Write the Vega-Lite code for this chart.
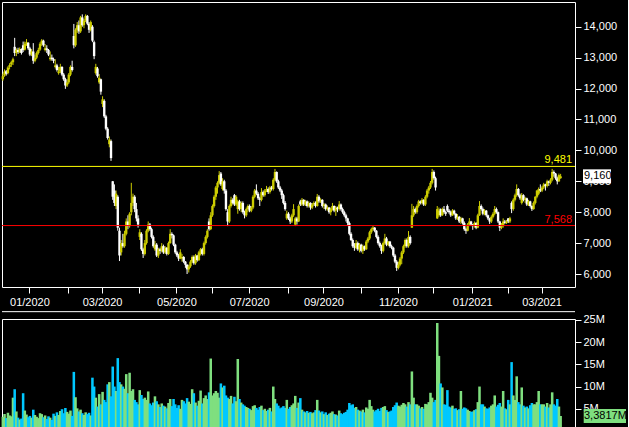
{
"$schema":"https://vega.github.io/schema/vega-lite/v6.json",
"background":"#000000",
"padding":{"left":1,"top":1,"right":0,"bottom":0},
"spacing":2,
"config":{"view":{"stroke":"#ffffff","strokeWidth":1},"axis":{"labelColor":"#ffffff","tickColor":"#ffffff","domain":false,"grid":false,"labelFont":"Liberation Sans","labelFontSize":11,"tickSize":6,"labelOverlap":false},"text":{"font":"Liberation Sans"}},
"resolve":{"scale":{"x":"shared"}},
"datasets":{"pad":[{"d":"2021-03-17"},{"d":"2021-03-18"},{"d":"2021-03-19"},{"d":"2021-03-22"},{"d":"2021-03-23"},{"d":"2021-03-24"},{"d":"2021-03-25"},{"d":"2021-03-26"}]},
"data":{"values":[
{"d":"2019-12-10","o":12300,"h":12480,"l":12250,"c":12400,"v":3.2},
{"d":"2019-12-11","o":12420,"h":12620,"l":12380,"c":12550,"v":3.8},
{"d":"2019-12-12","o":12560,"h":12600,"l":12420,"c":12480,"v":2.9},
{"d":"2019-12-13","o":12500,"h":12720,"l":12460,"c":12680,"v":4.1},
{"d":"2019-12-16","o":12700,"h":12820,"l":12620,"c":12760,"v":3.5},
{"d":"2019-12-17","o":12780,"h":12900,"l":12700,"c":12850,"v":3.3},
{"d":"2019-12-18","o":12850,"h":13000,"l":12760,"c":12950,"v":7.5},
{"d":"2019-12-19","o":13350,"h":13640,"l":13050,"c":13150,"v":9.4},
{"d":"2019-12-20","o":13150,"h":13300,"l":13050,"c":13250,"v":4.4},
{"d":"2019-12-23","o":13250,"h":13320,"l":13120,"c":13180,"v":3.0},
{"d":"2019-12-24","o":13180,"h":13330,"l":13150,"c":13280,"v":2.6},
{"d":"2019-12-25","o":13280,"h":13300,"l":13100,"c":13150,"v":2.8},
{"d":"2019-12-26","o":13400,"h":13520,"l":13180,"c":13250,"v":8.5},
{"d":"2019-12-27","o":13260,"h":13520,"l":13230,"c":13450,"v":4.6},
{"d":"2019-12-30","o":13450,"h":13600,"l":13380,"c":13500,"v":3.7},
{"d":"2019-12-31","o":13480,"h":13500,"l":13250,"c":13300,"v":3.1},
{"d":"2020-01-01","o":13300,"h":13350,"l":13050,"c":13100,"v":3.4},
{"d":"2020-01-02","o":13100,"h":13280,"l":13050,"c":13200,"v":3.0},
{"d":"2020-01-03","o":13200,"h":13470,"l":12800,"c":12900,"v":4.8},
{"d":"2020-01-06","o":12900,"h":13100,"l":12850,"c":13000,"v":3.6},
{"d":"2020-01-07","o":13000,"h":13200,"l":12950,"c":13150,"v":3.2},
{"d":"2020-01-08","o":13150,"h":13320,"l":13100,"c":13250,"v":2.9},
{"d":"2020-01-09","o":13260,"h":13500,"l":13220,"c":13450,"v":4.0},
{"d":"2020-01-10","o":13450,"h":13600,"l":13380,"c":13550,"v":3.8},
{"d":"2020-01-13","o":13550,"h":13580,"l":13350,"c":13400,"v":3.1},
{"d":"2020-01-14","o":13250,"h":13440,"l":13200,"c":13300,"v":3.5},
{"d":"2020-01-15","o":13300,"h":13400,"l":13150,"c":13250,"v":2.7},
{"d":"2020-01-16","o":13250,"h":13280,"l":13050,"c":13100,"v":3.3},
{"d":"2020-01-17","o":12950,"h":13200,"l":12900,"c":13000,"v":3.0},
{"d":"2020-01-20","o":13000,"h":13100,"l":12900,"c":12950,"v":2.5},
{"d":"2020-01-21","o":12950,"h":13000,"l":12820,"c":12900,"v":3.9},
{"d":"2020-01-22","o":12700,"h":12950,"l":12650,"c":12750,"v":3.4},
{"d":"2020-01-23","o":12750,"h":12800,"l":12550,"c":12600,"v":4.2},
{"d":"2020-01-24","o":12500,"h":12700,"l":12450,"c":12550,"v":3.6},
{"d":"2020-01-27","o":12550,"h":12800,"l":12500,"c":12700,"v":4.5},
{"d":"2020-01-28","o":12700,"h":12720,"l":12400,"c":12450,"v":4.9},
{"d":"2020-01-29","o":12450,"h":12500,"l":12250,"c":12300,"v":4.0},
{"d":"2020-01-30","o":12300,"h":12350,"l":11990,"c":12100,"v":5.2},
{"d":"2020-01-31","o":12100,"h":12300,"l":12050,"c":12200,"v":4.3},
{"d":"2020-02-03","o":12200,"h":12500,"l":12150,"c":12450,"v":3.9},
{"d":"2020-02-04","o":12450,"h":12750,"l":12400,"c":12700,"v":4.6},
{"d":"2020-02-05","o":12700,"h":12900,"l":12550,"c":12600,"v":3.4},
{"d":"2020-02-06","o":13700,"h":14090,"l":13300,"c":13400,"v":13.3},
{"d":"2020-02-07","o":13400,"h":13950,"l":13350,"c":13900,"v":7.6},
{"d":"2020-02-10","o":13900,"h":14150,"l":13800,"c":14050,"v":5.1},
{"d":"2020-02-11","o":14050,"h":14200,"l":13770,"c":13850,"v":4.4},
{"d":"2020-02-12","o":13850,"h":14350,"l":13800,"c":14300,"v":4.8},
{"d":"2020-02-13","o":14300,"h":14400,"l":14000,"c":14050,"v":4.0},
{"d":"2020-02-14","o":14050,"h":14250,"l":13950,"c":14200,"v":3.6},
{"d":"2020-02-17","o":14200,"h":14400,"l":14150,"c":14350,"v":4.2},
{"d":"2020-02-18","o":14350,"h":14380,"l":14050,"c":14100,"v":3.8},
{"d":"2020-02-19","o":14100,"h":14150,"l":13800,"c":13900,"v":4.1},
{"d":"2020-02-20","o":13900,"h":14200,"l":13850,"c":14150,"v":3.5},
{"d":"2020-02-21","o":14000,"h":14050,"l":13500,"c":13550,"v":12.0},
{"d":"2020-02-24","o":13500,"h":13550,"l":12950,"c":13050,"v":10.0},
{"d":"2020-02-25","o":12500,"h":12800,"l":12450,"c":12700,"v":7.5},
{"d":"2020-02-26","o":12650,"h":12700,"l":12350,"c":12400,"v":5.5},
{"d":"2020-02-27","o":12200,"h":12470,"l":12150,"c":12350,"v":8.3},
{"d":"2020-02-28","o":12300,"h":12320,"l":11800,"c":11900,"v":6.0},
{"d":"2020-03-02","o":11500,"h":11750,"l":11400,"c":11650,"v":8.8},
{"d":"2020-03-03","o":11600,"h":11650,"l":11050,"c":11100,"v":7.0},
{"d":"2020-03-04","o":11100,"h":11150,"l":10650,"c":10700,"v":6.5},
{"d":"2020-03-05","o":10700,"h":10750,"l":10350,"c":10400,"v":10.5},
{"d":"2020-03-06","o":10200,"h":10450,"l":10100,"c":10350,"v":11.0},
{"d":"2020-03-09","o":10300,"h":10350,"l":9660,"c":9750,"v":7.8},
{"d":"2020-03-10","o":9000,"h":9010,"l":8400,"c":8500,"v":14.5},
{"d":"2020-03-11","o":8700,"h":8900,"l":8200,"c":8300,"v":10.0},
{"d":"2020-03-12","o":8200,"h":8700,"l":8100,"c":8600,"v":9.0},
{"d":"2020-03-13","o":8500,"h":8550,"l":7400,"c":7500,"v":16.4},
{"d":"2020-03-16","o":7400,"h":7500,"l":6420,"c":6600,"v":11.0},
{"d":"2020-03-17","o":6700,"h":7100,"l":6600,"c":7000,"v":10.5},
{"d":"2020-03-18","o":7000,"h":7300,"l":6850,"c":6900,"v":10.0},
{"d":"2020-03-19","o":6900,"h":7400,"l":6850,"c":7300,"v":9.5},
{"d":"2020-03-20","o":7300,"h":7800,"l":7250,"c":7700,"v":12.8},
{"d":"2020-03-23","o":7700,"h":7900,"l":7450,"c":7550,"v":8.5},
{"d":"2020-03-24","o":7550,"h":8000,"l":7500,"c":7950,"v":13.1},
{"d":"2020-03-25","o":8000,"h":8950,"l":7900,"c":8300,"v":9.0},
{"d":"2020-03-26","o":8300,"h":8600,"l":8200,"c":8500,"v":9.4},
{"d":"2020-03-27","o":8500,"h":8550,"l":8000,"c":8100,"v":7.0},
{"d":"2020-03-30","o":8100,"h":8300,"l":7700,"c":7800,"v":6.5},
{"d":"2020-03-31","o":7800,"h":7900,"l":7500,"c":7600,"v":6.0},
{"d":"2020-04-01","o":7200,"h":7450,"l":7100,"c":7350,"v":9.2},
{"d":"2020-04-02","o":7300,"h":7350,"l":6750,"c":6800,"v":8.1},
{"d":"2020-04-03","o":6800,"h":6850,"l":6520,"c":6650,"v":7.2},
{"d":"2020-04-06","o":6650,"h":7100,"l":6600,"c":7000,"v":7.5},
{"d":"2020-04-07","o":7000,"h":7450,"l":6950,"c":7400,"v":7.0},
{"d":"2020-04-08","o":7400,"h":7700,"l":7350,"c":7600,"v":8.9},
{"d":"2020-04-09","o":7600,"h":7650,"l":7400,"c":7450,"v":6.2},
{"d":"2020-04-10","o":7450,"h":7500,"l":7150,"c":7200,"v":5.8},
{"d":"2020-04-13","o":7200,"h":7250,"l":6850,"c":6900,"v":6.4},
{"d":"2020-04-14","o":6800,"h":7070,"l":6750,"c":6950,"v":7.8},
{"d":"2020-04-15","o":6950,"h":7000,"l":6550,"c":6600,"v":6.7},
{"d":"2020-04-16","o":6600,"h":6850,"l":6520,"c":6800,"v":6.0},
{"d":"2020-04-17","o":6800,"h":6850,"l":6650,"c":6750,"v":5.4},
{"d":"2020-04-20","o":6750,"h":7000,"l":6700,"c":6900,"v":6.2},
{"d":"2020-04-21","o":6900,"h":6950,"l":6650,"c":6700,"v":5.7},
{"d":"2020-04-22","o":6700,"h":6900,"l":6650,"c":6850,"v":5.5},
{"d":"2020-04-23","o":6850,"h":6870,"l":6600,"c":6650,"v":5.1},
{"d":"2020-04-24","o":6650,"h":7050,"l":6620,"c":7000,"v":6.3},
{"d":"2020-04-27","o":7000,"h":7450,"l":6980,"c":7300,"v":7.2},
{"d":"2020-04-28","o":7300,"h":7350,"l":7150,"c":7250,"v":5.6},
{"d":"2020-04-29","o":7250,"h":7280,"l":6900,"c":6950,"v":7.2},
{"d":"2020-04-30","o":6950,"h":6980,"l":6650,"c":6700,"v":6.0},
{"d":"2020-05-01","o":6700,"h":6750,"l":6550,"c":6600,"v":5.2},
{"d":"2020-05-04","o":6600,"h":6650,"l":6420,"c":6500,"v":5.8},
{"d":"2020-05-05","o":6500,"h":6800,"l":6480,"c":6700,"v":5.0},
{"d":"2020-05-06","o":6500,"h":6650,"l":6400,"c":6550,"v":7.0},
{"d":"2020-05-07","o":6550,"h":6580,"l":6350,"c":6400,"v":6.7},
{"d":"2020-05-08","o":6400,"h":6420,"l":6200,"c":6300,"v":6.2},
{"d":"2020-05-11","o":6300,"h":6320,"l":6000,"c":6150,"v":7.4},
{"d":"2020-05-12","o":6150,"h":6300,"l":6050,"c":6250,"v":6.6},
{"d":"2020-05-13","o":6250,"h":6450,"l":6200,"c":6400,"v":6.1},
{"d":"2020-05-14","o":6400,"h":6600,"l":6350,"c":6550,"v":9.4},
{"d":"2020-05-15","o":6550,"h":6600,"l":6300,"c":6350,"v":8.5},
{"d":"2020-05-18","o":6350,"h":6650,"l":6300,"c":6600,"v":6.4},
{"d":"2020-05-19","o":6600,"h":6620,"l":6400,"c":6450,"v":5.7},
{"d":"2020-05-20","o":6450,"h":6750,"l":6420,"c":6700,"v":6.8},
{"d":"2020-05-21","o":6650,"h":6840,"l":6600,"c":6800,"v":9.1},
{"d":"2020-05-22","o":6800,"h":6850,"l":6600,"c":6650,"v":6.2},
{"d":"2020-05-25","o":6650,"h":7050,"l":6600,"c":7000,"v":7.4},
{"d":"2020-05-26","o":7000,"h":7250,"l":6950,"c":7200,"v":8.0},
{"d":"2020-05-27","o":7200,"h":7450,"l":7150,"c":7400,"v":7.2},
{"d":"2020-05-28","o":7700,"h":7800,"l":7400,"c":7450,"v":8.7},
{"d":"2020-05-29","o":7450,"h":8000,"l":7420,"c":7900,"v":16.3},
{"d":"2020-06-01","o":7900,"h":8250,"l":7850,"c":8200,"v":8.0},
{"d":"2020-06-02","o":8200,"h":8550,"l":8150,"c":8500,"v":8.5},
{"d":"2020-06-03","o":8500,"h":8850,"l":8400,"c":8800,"v":9.0},
{"d":"2020-06-04","o":8800,"h":9000,"l":8600,"c":8950,"v":8.6},
{"d":"2020-06-05","o":8950,"h":9330,"l":8900,"c":9200,"v":7.5},
{"d":"2020-06-08","o":9250,"h":9300,"l":8850,"c":8900,"v":10.7},
{"d":"2020-06-09","o":8750,"h":9100,"l":8700,"c":9000,"v":9.8},
{"d":"2020-06-10","o":9000,"h":9050,"l":8600,"c":8700,"v":10.2},
{"d":"2020-06-11","o":8700,"h":8750,"l":8050,"c":8100,"v":8.0},
{"d":"2020-06-12","o":8000,"h":8100,"l":7550,"c":7700,"v":7.5},
{"d":"2020-06-15","o":7700,"h":8250,"l":7650,"c":8200,"v":7.2},
{"d":"2020-06-16","o":8200,"h":8500,"l":8150,"c":8400,"v":7.9},
{"d":"2020-06-17","o":8400,"h":8450,"l":8250,"c":8300,"v":6.2},
{"d":"2020-06-18","o":8550,"h":8590,"l":8200,"c":8250,"v":7.7},
{"d":"2020-06-19","o":8250,"h":8550,"l":8200,"c":8500,"v":6.7},
{"d":"2020-06-22","o":8100,"h":8400,"l":7950,"c":8350,"v":16.2},
{"d":"2020-06-23","o":8350,"h":8400,"l":8050,"c":8100,"v":7.2},
{"d":"2020-06-24","o":8100,"h":8350,"l":8000,"c":8300,"v":6.4},
{"d":"2020-06-25","o":8300,"h":8350,"l":7950,"c":8000,"v":6.0},
{"d":"2020-06-26","o":8000,"h":8050,"l":7800,"c":7900,"v":5.7},
{"d":"2020-06-29","o":7900,"h":8150,"l":7850,"c":8100,"v":5.4},
{"d":"2020-06-30","o":8100,"h":8250,"l":8000,"c":8200,"v":5.2},
{"d":"2020-07-01","o":8200,"h":8250,"l":8000,"c":8050,"v":5.0},
{"d":"2020-07-02","o":8050,"h":8200,"l":8000,"c":8150,"v":4.7},
{"d":"2020-07-03","o":8150,"h":8550,"l":8100,"c":8500,"v":5.6},
{"d":"2020-07-06","o":8500,"h":8750,"l":8450,"c":8700,"v":5.8},
{"d":"2020-07-07","o":8700,"h":8900,"l":8550,"c":8600,"v":5.2},
{"d":"2020-07-08","o":8600,"h":8650,"l":8400,"c":8450,"v":4.8},
{"d":"2020-07-09","o":8450,"h":8500,"l":8200,"c":8400,"v":5.4},
{"d":"2020-07-10","o":8400,"h":8780,"l":8350,"c":8650,"v":5.7},
{"d":"2020-07-13","o":8650,"h":8700,"l":8500,"c":8550,"v":4.7},
{"d":"2020-07-14","o":8550,"h":8750,"l":8500,"c":8700,"v":5.0},
{"d":"2020-07-15","o":8700,"h":8850,"l":8650,"c":8750,"v":4.5},
{"d":"2020-07-16","o":8750,"h":8800,"l":8590,"c":8650,"v":4.8},
{"d":"2020-07-17","o":8650,"h":8850,"l":8600,"c":8800,"v":5.2},
{"d":"2020-07-20","o":8800,"h":8850,"l":8700,"c":8750,"v":4.4},
{"d":"2020-07-21","o":8750,"h":9100,"l":8700,"c":9050,"v":10.0},
{"d":"2020-07-22","o":9050,"h":9400,"l":9000,"c":9300,"v":7.2},
{"d":"2020-07-23","o":9300,"h":9320,"l":8950,"c":9000,"v":6.2},
{"d":"2020-07-24","o":9000,"h":9050,"l":8750,"c":8800,"v":5.7},
{"d":"2020-07-27","o":8800,"h":8850,"l":8650,"c":8700,"v":5.1},
{"d":"2020-07-28","o":8700,"h":8750,"l":8430,"c":8550,"v":5.3},
{"d":"2020-07-29","o":8550,"h":8600,"l":8250,"c":8300,"v":5.6},
{"d":"2020-07-30","o":8300,"h":8360,"l":8050,"c":8100,"v":5.2},
{"d":"2020-07-31","o":7800,"h":8050,"l":7750,"c":7950,"v":7.0},
{"d":"2020-08-03","o":7950,"h":8000,"l":7750,"c":7800,"v":5.0},
{"d":"2020-08-04","o":7800,"h":7850,"l":7620,"c":7700,"v":5.4},
{"d":"2020-08-05","o":7700,"h":7950,"l":7650,"c":7900,"v":5.8},
{"d":"2020-08-06","o":7900,"h":8260,"l":7850,"c":8100,"v":6.2},
{"d":"2020-08-07","o":7600,"h":7850,"l":7550,"c":7800,"v":7.9},
{"d":"2020-08-10","o":7800,"h":7850,"l":7600,"c":7700,"v":5.2},
{"d":"2020-08-11","o":7700,"h":8250,"l":7680,"c":8200,"v":6.4},
{"d":"2020-08-12","o":8350,"h":8400,"l":8200,"c":8250,"v":7.4},
{"d":"2020-08-13","o":8250,"h":8460,"l":8200,"c":8400,"v":4.8},
{"d":"2020-08-14","o":8400,"h":8420,"l":8200,"c":8250,"v":4.4},
{"d":"2020-08-17","o":8250,"h":8400,"l":8200,"c":8350,"v":4.2},
{"d":"2020-08-18","o":8350,"h":8380,"l":8150,"c":8200,"v":4.5},
{"d":"2020-08-19","o":8200,"h":8350,"l":8150,"c":8300,"v":4.1},
{"d":"2020-08-20","o":8300,"h":8320,"l":8080,"c":8150,"v":4.3},
{"d":"2020-08-21","o":8150,"h":8300,"l":8100,"c":8250,"v":4.0},
{"d":"2020-08-24","o":8250,"h":8350,"l":8200,"c":8300,"v":4.2},
{"d":"2020-08-25","o":8300,"h":8350,"l":8150,"c":8200,"v":4.7},
{"d":"2020-08-26","o":8200,"h":8590,"l":8180,"c":8500,"v":7.0},
{"d":"2020-08-27","o":8500,"h":8550,"l":8300,"c":8350,"v":4.6},
{"d":"2020-08-28","o":8350,"h":8450,"l":8300,"c":8400,"v":4.2},
{"d":"2020-08-31","o":8400,"h":8420,"l":8150,"c":8200,"v":4.4},
{"d":"2020-09-01","o":8200,"h":8300,"l":8100,"c":8250,"v":3.8},
{"d":"2020-09-02","o":8250,"h":8280,"l":8050,"c":8100,"v":4.2},
{"d":"2020-09-03","o":8100,"h":8220,"l":8050,"c":8150,"v":3.6},
{"d":"2020-09-04","o":8150,"h":8170,"l":7950,"c":8000,"v":3.9},
{"d":"2020-09-07","o":8000,"h":8150,"l":7900,"c":8100,"v":4.1},
{"d":"2020-09-08","o":8100,"h":8300,"l":8050,"c":8200,"v":4.4},
{"d":"2020-09-09","o":8200,"h":8220,"l":8000,"c":8050,"v":3.8},
{"d":"2020-09-10","o":8050,"h":8200,"l":7880,"c":8150,"v":3.7},
{"d":"2020-09-11","o":8150,"h":8180,"l":8000,"c":8100,"v":3.5},
{"d":"2020-09-14","o":8100,"h":8360,"l":8050,"c":8250,"v":4.6},
{"d":"2020-09-15","o":8250,"h":8280,"l":8050,"c":8100,"v":4.0},
{"d":"2020-09-16","o":8100,"h":8150,"l":7950,"c":8000,"v":3.8},
{"d":"2020-09-17","o":8000,"h":8050,"l":7850,"c":7900,"v":4.1},
{"d":"2020-09-18","o":7900,"h":7950,"l":7700,"c":7800,"v":4.3},
{"d":"2020-09-21","o":7800,"h":7820,"l":7550,"c":7650,"v":4.8},
{"d":"2020-09-22","o":7650,"h":7700,"l":7250,"c":7300,"v":6.3},
{"d":"2020-09-23","o":7300,"h":7350,"l":7070,"c":7100,"v":5.8},
{"d":"2020-09-24","o":7100,"h":7150,"l":6850,"c":6900,"v":6.0},
{"d":"2020-09-25","o":6900,"h":7000,"l":6750,"c":6850,"v":5.2},
{"d":"2020-09-28","o":6850,"h":7100,"l":6800,"c":7000,"v":5.4},
{"d":"2020-09-29","o":7000,"h":7050,"l":6750,"c":6800,"v":4.8},
{"d":"2020-09-30","o":6800,"h":7000,"l":6700,"c":6950,"v":4.6},
{"d":"2020-10-01","o":6950,"h":6980,"l":6700,"c":6750,"v":4.4},
{"d":"2020-10-02","o":6750,"h":6950,"l":6650,"c":6900,"v":4.8},
{"d":"2020-10-05","o":6900,"h":6920,"l":6750,"c":6800,"v":4.2},
{"d":"2020-10-06","o":6800,"h":7100,"l":6780,"c":7050,"v":5.3},
{"d":"2020-10-07","o":7050,"h":7200,"l":7000,"c":7150,"v":5.0},
{"d":"2020-10-08","o":7150,"h":7400,"l":7100,"c":7350,"v":7.0},
{"d":"2020-10-09","o":7350,"h":7500,"l":7300,"c":7450,"v":5.6},
{"d":"2020-10-12","o":7450,"h":7550,"l":7400,"c":7500,"v":4.8},
{"d":"2020-10-13","o":7500,"h":7520,"l":7350,"c":7400,"v":4.4},
{"d":"2020-10-14","o":7400,"h":7420,"l":7150,"c":7200,"v":4.7},
{"d":"2020-10-15","o":7200,"h":7250,"l":6950,"c":7000,"v":5.0},
{"d":"2020-10-16","o":7000,"h":7050,"l":6850,"c":6900,"v":4.5},
{"d":"2020-10-19","o":6900,"h":6950,"l":6650,"c":6750,"v":5.2},
{"d":"2020-10-20","o":6750,"h":7050,"l":6700,"c":7000,"v":5.4},
{"d":"2020-10-21","o":7000,"h":7300,"l":6950,"c":7150,"v":5.6},
{"d":"2020-10-22","o":7150,"h":7200,"l":6900,"c":6950,"v":4.7},
{"d":"2020-10-23","o":6950,"h":7070,"l":6900,"c":7050,"v":4.3},
{"d":"2020-10-26","o":7050,"h":7070,"l":6850,"c":6900,"v":4.4},
{"d":"2020-10-27","o":6900,"h":6950,"l":6800,"c":6850,"v":4.6},
{"d":"2020-10-28","o":6850,"h":6880,"l":6550,"c":6600,"v":5.4},
{"d":"2020-10-29","o":6600,"h":6650,"l":6350,"c":6400,"v":5.8},
{"d":"2020-10-30","o":6400,"h":6450,"l":6100,"c":6200,"v":6.4},
{"d":"2020-11-02","o":6200,"h":6400,"l":6150,"c":6300,"v":5.7},
{"d":"2020-11-03","o":6300,"h":6550,"l":6250,"c":6500,"v":5.5},
{"d":"2020-11-04","o":6500,"h":6750,"l":6320,"c":6700,"v":5.9},
{"d":"2020-11-05","o":6700,"h":6950,"l":6650,"c":6900,"v":6.3},
{"d":"2020-11-06","o":6900,"h":7150,"l":6850,"c":7100,"v":6.0},
{"d":"2020-11-09","o":7100,"h":7150,"l":6850,"c":6900,"v":5.5},
{"d":"2020-11-10","o":6900,"h":7390,"l":6850,"c":7200,"v":6.5},
{"d":"2020-11-11","o":7200,"h":7250,"l":6950,"c":7000,"v":6.0},
{"d":"2020-11-12","o":7500,"h":8270,"l":7490,"c":7900,"v":13.4},
{"d":"2020-11-13","o":7900,"h":8200,"l":7850,"c":8100,"v":7.5},
{"d":"2020-11-16","o":8100,"h":8150,"l":7950,"c":8000,"v":6.0},
{"d":"2020-11-17","o":8000,"h":8250,"l":7950,"c":8200,"v":6.0},
{"d":"2020-11-18","o":8200,"h":8400,"l":8150,"c":8350,"v":5.7},
{"d":"2020-11-19","o":8350,"h":8380,"l":8250,"c":8300,"v":5.1},
{"d":"2020-11-20","o":8300,"h":8460,"l":8250,"c":8400,"v":5.4},
{"d":"2020-11-23","o":8400,"h":8420,"l":8200,"c":8250,"v":5.0},
{"d":"2020-11-24","o":8250,"h":8550,"l":8200,"c":8500,"v":6.1},
{"d":"2020-11-25","o":8500,"h":8750,"l":8450,"c":8700,"v":6.0},
{"d":"2020-11-26","o":8700,"h":8850,"l":8600,"c":8800,"v":6.5},
{"d":"2020-11-27","o":8800,"h":9010,"l":8750,"c":8950,"v":8.6},
{"d":"2020-11-30","o":8950,"h":9400,"l":8900,"c":9300,"v":7.5},
{"d":"2020-12-01","o":9300,"h":9350,"l":9050,"c":9100,"v":6.5},
{"d":"2020-12-02","o":9100,"h":9150,"l":8700,"c":8800,"v":7.0},
{"d":"2020-12-03","o":7800,"h":8200,"l":7780,"c":8100,"v":24.3},
{"d":"2020-12-04","o":7900,"h":8150,"l":7850,"c":8050,"v":16.9},
{"d":"2020-12-07","o":8100,"h":8120,"l":7850,"c":7900,"v":10.7},
{"d":"2020-12-08","o":7900,"h":8150,"l":7880,"c":8100,"v":9.8},
{"d":"2020-12-09","o":8100,"h":8200,"l":7950,"c":8000,"v":6.0},
{"d":"2020-12-10","o":8000,"h":8050,"l":7880,"c":7950,"v":5.9},
{"d":"2020-12-11","o":8200,"h":8250,"l":8000,"c":8050,"v":9.2},
{"d":"2020-12-14","o":8050,"h":8100,"l":7950,"c":8000,"v":5.5},
{"d":"2020-12-15","o":8000,"h":8050,"l":7850,"c":7900,"v":5.3},
{"d":"2020-12-16","o":7900,"h":8100,"l":7880,"c":8050,"v":5.7},
{"d":"2020-12-17","o":8050,"h":8080,"l":7900,"c":7950,"v":5.0},
{"d":"2020-12-18","o":7950,"h":7970,"l":7750,"c":7800,"v":5.1},
{"d":"2020-12-21","o":7800,"h":7940,"l":7750,"c":7850,"v":4.7},
{"d":"2020-12-22","o":7850,"h":7880,"l":7650,"c":7700,"v":4.9},
{"d":"2020-12-23","o":7700,"h":7850,"l":7620,"c":7800,"v":9.0},
{"d":"2020-12-24","o":7800,"h":7820,"l":7600,"c":7650,"v":5.0},
{"d":"2020-12-25","o":7650,"h":7700,"l":7400,"c":7450,"v":5.3},
{"d":"2020-12-28","o":7450,"h":7500,"l":7300,"c":7400,"v":5.1},
{"d":"2020-12-29","o":7400,"h":7650,"l":7380,"c":7600,"v":4.8},
{"d":"2020-12-30","o":7600,"h":7810,"l":7550,"c":7700,"v":4.5},
{"d":"2020-12-31","o":7700,"h":7720,"l":7550,"c":7600,"v":4.3},
{"d":"2021-01-01","o":7600,"h":7620,"l":7430,"c":7550,"v":4.4},
{"d":"2021-01-04","o":7550,"h":7700,"l":7500,"c":7650,"v":4.7},
{"d":"2021-01-05","o":7650,"h":7680,"l":7450,"c":7500,"v":4.9},
{"d":"2021-01-06","o":7500,"h":7950,"l":7480,"c":7900,"v":6.5},
{"d":"2021-01-07","o":7900,"h":8360,"l":7880,"c":8200,"v":10.0},
{"d":"2021-01-08","o":8200,"h":8250,"l":8050,"c":8100,"v":6.0},
{"d":"2021-01-11","o":8100,"h":8150,"l":7900,"c":7950,"v":6.0},
{"d":"2021-01-12","o":7950,"h":8100,"l":7900,"c":8050,"v":5.5},
{"d":"2021-01-13","o":8050,"h":8070,"l":7850,"c":7900,"v":5.1},
{"d":"2021-01-14","o":7900,"h":7920,"l":7750,"c":7800,"v":5.0},
{"d":"2021-01-15","o":7800,"h":7820,"l":7620,"c":7700,"v":5.3},
{"d":"2021-01-18","o":7700,"h":7900,"l":7650,"c":7850,"v":5.7},
{"d":"2021-01-19","o":7850,"h":8000,"l":7800,"c":7950,"v":6.0},
{"d":"2021-01-20","o":7950,"h":8200,"l":7900,"c":8100,"v":8.0},
{"d":"2021-01-21","o":8100,"h":8150,"l":7950,"c":8000,"v":5.5},
{"d":"2021-01-22","o":8000,"h":8020,"l":7650,"c":7700,"v":5.9},
{"d":"2021-01-25","o":7700,"h":7720,"l":7390,"c":7500,"v":6.3},
{"d":"2021-01-26","o":7500,"h":7650,"l":7450,"c":7600,"v":5.5},
{"d":"2021-01-27","o":7550,"h":7800,"l":7500,"c":7700,"v":9.0},
{"d":"2021-01-28","o":7700,"h":7750,"l":7620,"c":7650,"v":5.1},
{"d":"2021-01-29","o":7650,"h":7750,"l":7620,"c":7700,"v":4.9},
{"d":"2021-02-01","o":7800,"h":7810,"l":7650,"c":7700,"v":7.0},
{"d":"2021-02-02","o":7700,"h":7850,"l":7650,"c":7800,"v":6.0},
{"d":"2021-02-03","o":8300,"h":8350,"l":7970,"c":8100,"v":15.5},
{"d":"2021-02-04","o":8100,"h":8450,"l":8050,"c":8400,"v":8.0},
{"d":"2021-02-05","o":8400,"h":8600,"l":8350,"c":8550,"v":7.0},
{"d":"2021-02-08","o":8550,"h":8900,"l":8500,"c":8750,"v":12.3},
{"d":"2021-02-09","o":8750,"h":8780,"l":8500,"c":8550,"v":6.5},
{"d":"2021-02-10","o":8550,"h":8600,"l":8400,"c":8450,"v":6.0},
{"d":"2021-02-11","o":8300,"h":8620,"l":8250,"c":8550,"v":9.8},
{"d":"2021-02-12","o":8550,"h":8580,"l":8350,"c":8400,"v":5.7},
{"d":"2021-02-15","o":8400,"h":8500,"l":8300,"c":8450,"v":5.3},
{"d":"2021-02-16","o":8450,"h":8470,"l":8200,"c":8250,"v":5.5},
{"d":"2021-02-17","o":8250,"h":8400,"l":8200,"c":8350,"v":5.1},
{"d":"2021-02-18","o":8350,"h":8370,"l":8150,"c":8200,"v":5.8},
{"d":"2021-02-19","o":8200,"h":8220,"l":8040,"c":8100,"v":6.3},
{"d":"2021-02-22","o":8100,"h":8350,"l":8080,"c":8300,"v":6.0},
{"d":"2021-02-23","o":8300,"h":8520,"l":8250,"c":8500,"v":6.0},
{"d":"2021-02-24","o":8500,"h":8720,"l":8450,"c":8700,"v":6.5},
{"d":"2021-02-25","o":8600,"h":8800,"l":8550,"c":8750,"v":9.0},
{"d":"2021-02-26","o":8750,"h":8900,"l":8650,"c":8700,"v":6.0},
{"d":"2021-03-01","o":8700,"h":8850,"l":8650,"c":8800,"v":6.0},
{"d":"2021-03-02","o":8800,"h":8950,"l":8750,"c":8900,"v":6.0},
{"d":"2021-03-03","o":8900,"h":8920,"l":8700,"c":8850,"v":5.5},
{"d":"2021-03-04","o":8850,"h":9050,"l":8800,"c":9000,"v":6.3},
{"d":"2021-03-05","o":9000,"h":9020,"l":8850,"c":8950,"v":5.3},
{"d":"2021-03-08","o":8950,"h":9100,"l":8900,"c":9050,"v":6.0},
{"d":"2021-03-09","o":9050,"h":9400,"l":9000,"c":9300,"v":8.7},
{"d":"2021-03-10","o":9300,"h":9350,"l":9150,"c":9250,"v":6.0},
{"d":"2021-03-11","o":9250,"h":9270,"l":9050,"c":9100,"v":5.7},
{"d":"2021-03-12","o":9100,"h":9150,"l":8900,"c":9000,"v":7.2},
{"d":"2021-03-15","o":9000,"h":9250,"l":8980,"c":9200,"v":5.5},
{"d":"2021-03-16","o":9100,"h":9240,"l":9080,"c":9160,"v":3.3817}
]},
"vconcat":[
{
"width":573,"height":285,
"layer":[
{"mark":{"type":"rule","strokeWidth":1},
 "encoding":{
  "x":{"field":"d","type":"ordinal","title":null,"scale":{"paddingInner":0,"paddingOuter":0,"align":0.5},
       "axis":{"orient":"bottom","labelAngle":0,"labelPadding":3,"labelOverlap":false,
               "values":["2020-01-01","2020-02-03","2020-03-02","2020-04-01","2020-05-01","2020-06-01","2020-07-01","2020-08-03","2020-09-01","2020-10-01","2020-11-02","2020-12-01","2021-01-01","2021-02-01","2021-03-01"],
               "labelExpr":"(+slice(datum.value,5,7))%2==1 ? slice(datum.value,5,7)+'/'+slice(datum.value,0,4) : ''"}},
  "y":{"field":"l","type":"quantitative","title":null,"scale":{"domain":[5580,14800],"nice":false,"zero":false},
       "axis":{"orient":"right","values":[6000,7000,8000,9000,10000,11000,12000,13000,14000],"labelExpr":"format(datum.value, ',')","labelOverlap":false,"labelPadding":2}},
  "y2":{"field":"h"},
  "color":{"condition":{"test":"datum.c >= datum.o","value":"#cccc00"},"value":"#ffffff"}}},
{"mark":{"type":"bar","width":{"band":1.4}},
 "encoding":{
  "x":{"field":"d","type":"ordinal","title":null},
  "y":{"field":"o","type":"quantitative","title":null,
       "axis":{"orient":"right","values":[6000,7000,8000,9000,10000,11000,12000,13000,14000],"labelExpr":"format(datum.value, ',')","labelOverlap":false,"labelPadding":2}},
  "y2":{"field":"c"},
  "color":{"condition":{"test":"datum.c >= datum.o","value":"#cccc00"},"value":"#ffffff"}}},
{"data":{"name":"pad"},
 "mark":{"type":"point","opacity":0},
 "encoding":{"x":{"field":"d","type":"ordinal","title":null}}},
{"data":{"values":[{"p":9481,"t":"9,481","k":"hi"},{"p":7568,"t":"7,568","k":"lo"}]},
 "mark":{"type":"rule","strokeWidth":1},
 "encoding":{"y":{"field":"p","type":"quantitative","title":null,
       "axis":{"orient":"right","values":[6000,7000,8000,9000,10000,11000,12000,13000,14000],"labelExpr":"format(datum.value, ',')","labelOverlap":false,"labelPadding":2}},
  "color":{"field":"k","type":"nominal","scale":{"domain":["hi","lo"],"range":["#ffff00","#ff0000"]},"legend":null}}},
{"data":{"values":[{"p":9481,"t":"9,481","k":"hi"},{"p":7568,"t":"7,568","k":"lo"}]},
 "mark":{"type":"text","align":"right","baseline":"bottom","dx":-3,"dy":-1,"fontSize":11},
 "encoding":{"x":{"value":"width"},"y":{"field":"p","type":"quantitative","title":null,
       "axis":{"orient":"right","values":[6000,7000,8000,9000,10000,11000,12000,13000,14000],"labelExpr":"format(datum.value, ',')","labelOverlap":false,"labelPadding":2}},"text":{"field":"t"},
  "color":{"field":"k","type":"nominal","scale":{"domain":["hi","lo"],"range":["#ffff00","#ff0000"]},"legend":null}}},
{"data":{"values":[{"p":9160,"t":"9,160"}]},
 "mark":{"type":"point","shape":"M0.8,-0.7H3.6V0.7H0.8Z","size":400,"filled":true,"color":"#ffffff","opacity":1},
 "encoding":{"x":{"value":"width"},"y":{"field":"p","type":"quantitative","title":null,
       "axis":{"orient":"right","values":[6000,7000,8000,9000,10000,11000,12000,13000,14000],"labelExpr":"format(datum.value, ',')","labelOverlap":false,"labelPadding":2}}}},
{"data":{"values":[{"p":9160,"t":"9,160"}]},
 "mark":{"type":"text","align":"left","baseline":"middle","dx":9,"fontSize":11,"color":"#000000"},
 "encoding":{"x":{"value":"width"},"y":{"field":"p","type":"quantitative","title":null,
       "axis":{"orient":"right","values":[6000,7000,8000,9000,10000,11000,12000,13000,14000],"labelExpr":"format(datum.value, ',')","labelOverlap":false,"labelPadding":2}},"text":{"field":"t"}}}
]
},
{
"width":573,"height":112,
"layer":[
{"mark":{"type":"bar","width":{"band":1.5}},
 "encoding":{
  "x":{"field":"d","type":"ordinal","title":null,"axis":null,"scale":{"paddingInner":0,"paddingOuter":0,"align":0.5}},
  "y":{"field":"v","type":"quantitative","title":null,"scale":{"domain":[0,25.2],"nice":false},
       "axis":{"orient":"right","values":[5,10,15,20,25],"labelExpr":"datum.value + 'M'","labelOverlap":false,"labelPadding":2}},
  "color":{"condition":{"test":"datum.c >= datum.o","value":"#7fdf7f"},"value":"#00c8ff"}}},
{"data":{"name":"pad"},
 "mark":{"type":"point","opacity":0},
 "encoding":{"x":{"field":"d","type":"ordinal","title":null,"axis":null}}},
{"data":{"values":[{"s":26.85}]},
 "mark":{"type":"rule","color":"#ffffff","strokeWidth":1},
 "encoding":{"y":{"field":"s","type":"quantitative","title":null,
       "axis":{"orient":"right","values":[5,10,15,20,25],"labelExpr":"datum.value + 'M'","labelOverlap":false,"labelPadding":2}}}},
{"data":{"values":[{"v":3.3817,"t":"3,3817M"}]},
 "mark":{"type":"point","shape":"M0.87,-0.7H5.1V0.7H0.87Z","size":400,"filled":true,"color":"#7fdf7f","opacity":1},
 "encoding":{"x":{"value":"width"},"y":{"field":"v","type":"quantitative","title":null,
       "axis":{"orient":"right","values":[5,10,15,20,25],"labelExpr":"datum.value + 'M'","labelOverlap":false,"labelPadding":2}}}},
{"data":{"values":[{"v":3.3817,"t":"3,3817M"}]},
 "mark":{"type":"text","align":"left","baseline":"middle","dx":9,"fontSize":11,"color":"#000000"},
 "encoding":{"x":{"value":"width"},"y":{"field":"v","type":"quantitative","title":null,
       "axis":{"orient":"right","values":[5,10,15,20,25],"labelExpr":"datum.value + 'M'","labelOverlap":false,"labelPadding":2}},"text":{"field":"t"}}}
]
}
]
}
